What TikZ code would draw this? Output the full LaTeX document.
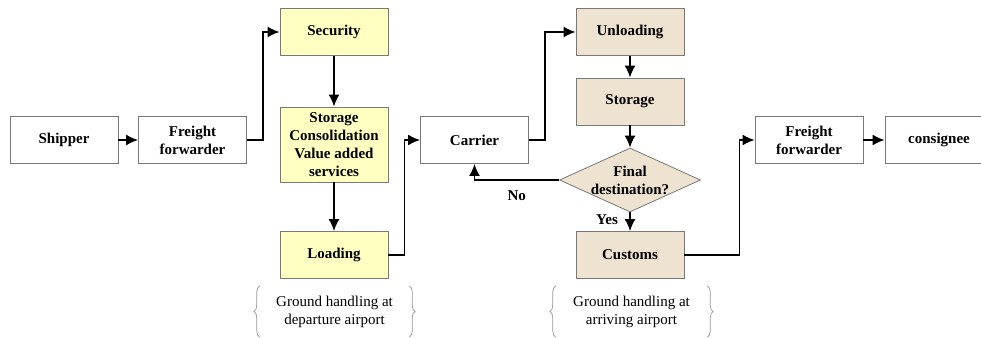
\documentclass[tikz,border=0pt]{standalone}
\usepackage{fontspec}
\setmainfont{Liberation Serif}
\usetikzlibrary{shapes.geometric,arrows.meta,positioning,decorations.pathreplacing}

\definecolor{depfill}{RGB}{255,255,194}
\definecolor{arrfill}{RGB}{238,226,208}
\definecolor{boxline}{RGB}{120,120,120}
\definecolor{braceline}{RGB}{150,150,150}

\begin{document}
\begin{tikzpicture}[x=1pt,y=-1pt,on grid,
    font=\fontsize{15}{18}\selectfont\bfseries,
    box/.style={draw=boxline,line width=0.8pt,minimum width=108pt,minimum height=47pt,align=center,inner sep=0pt},
    dep/.style={box,fill=depfill},
    arr/.style={box,fill=arrfill},
    flow/.style={line width=1.7pt,-{Latex[length=12pt,width=11pt]}},
    note/.style={font=\fontsize{15}{18}\selectfont,align=center,minimum height=51pt,inner sep=0pt},
    curly/.style={draw=braceline,line width=0.7pt,decorate,decoration={brace,amplitude=6pt}}]
    \useasboundingbox (0,0) rectangle (981,339);

    % departure side
    \node[box] (shipper) at (64,140) {Shipper};
    \node[box] (ff_1) [right=128.5pt of shipper] {Freight\\forwarder};
    \node[dep] (security) at (334,32) {Security};
    \node[dep,minimum height=75pt] (storage_1) [below=112.5pt of security] {Storage\\Consolidation\\Value added\\services};
    \node[dep] (loading) [below=110.5pt of storage_1] {Loading};
    \node[box] (carrier) at (474.5,140) {Carrier};

    % arrival side
    \node[arr] (unloading) at (630,32) {Unloading};
    \node[arr] (storage_2) [below=69.5pt of unloading] {Storage};
    \node[diamond,draw=boxline,line width=0.8pt,fill=arrfill,minimum width=141pt,minimum height=64pt,inner sep=0pt,
          label={[align=center]center:Final\\destination?}] (dest) [below=78.5pt of storage_2] {};
    \node[arr] (customs) [below=75pt of dest] {Customs};
    \node[box] (ff_2) at (809,140) {Freight\\forwarder};
    \node[box] (consignee) [right=130pt of ff_2] {consignee};

    % notes under the airports
    \node[note,minimum width=149pt] (gh_1) at (334.5,311.5) {Ground handling at\\departure airport};
    \node[note,minimum width=151pt] (gh_2) at (631.5,311.5) {Ground handling at\\arriving airport};
    \draw[curly] (gh_1.south west) -- (gh_1.north west);
    \draw[curly] (gh_1.north east) -- (gh_1.south east);
    \draw[curly] (gh_2.south west) -- (gh_2.north west);
    \draw[curly] (gh_2.north east) -- (gh_2.south east);

    % connectors
    \draw[flow] (shipper) -- (ff_1);
    \draw[flow] (ff_1.east) -- ++(16,0) |- (security.west);
    \draw[flow] (security) -- (storage_1);
    \draw[flow] (storage_1) -- (loading);
    \draw[flow] (loading.east) -- ++(16,0) |- (carrier.west);
    \draw[flow] (carrier.east) -- ++(16,0) |- (unloading.west);
    \draw[flow] (unloading) -- (storage_2);
    \draw[flow] (storage_2) -- (dest);
    \draw[flow] (dest.west) -| node[pos=0.25,below=6pt] {No} (carrier.south);
    \draw[flow] (dest.south) -- node[pos=0.4,left=8pt] {Yes} (customs.north);
    \draw[flow] (customs.east) -- ++(55,0) |- (ff_2.west);
    \draw[flow] (ff_2) -- (consignee);
\end{tikzpicture}
\end{document}
